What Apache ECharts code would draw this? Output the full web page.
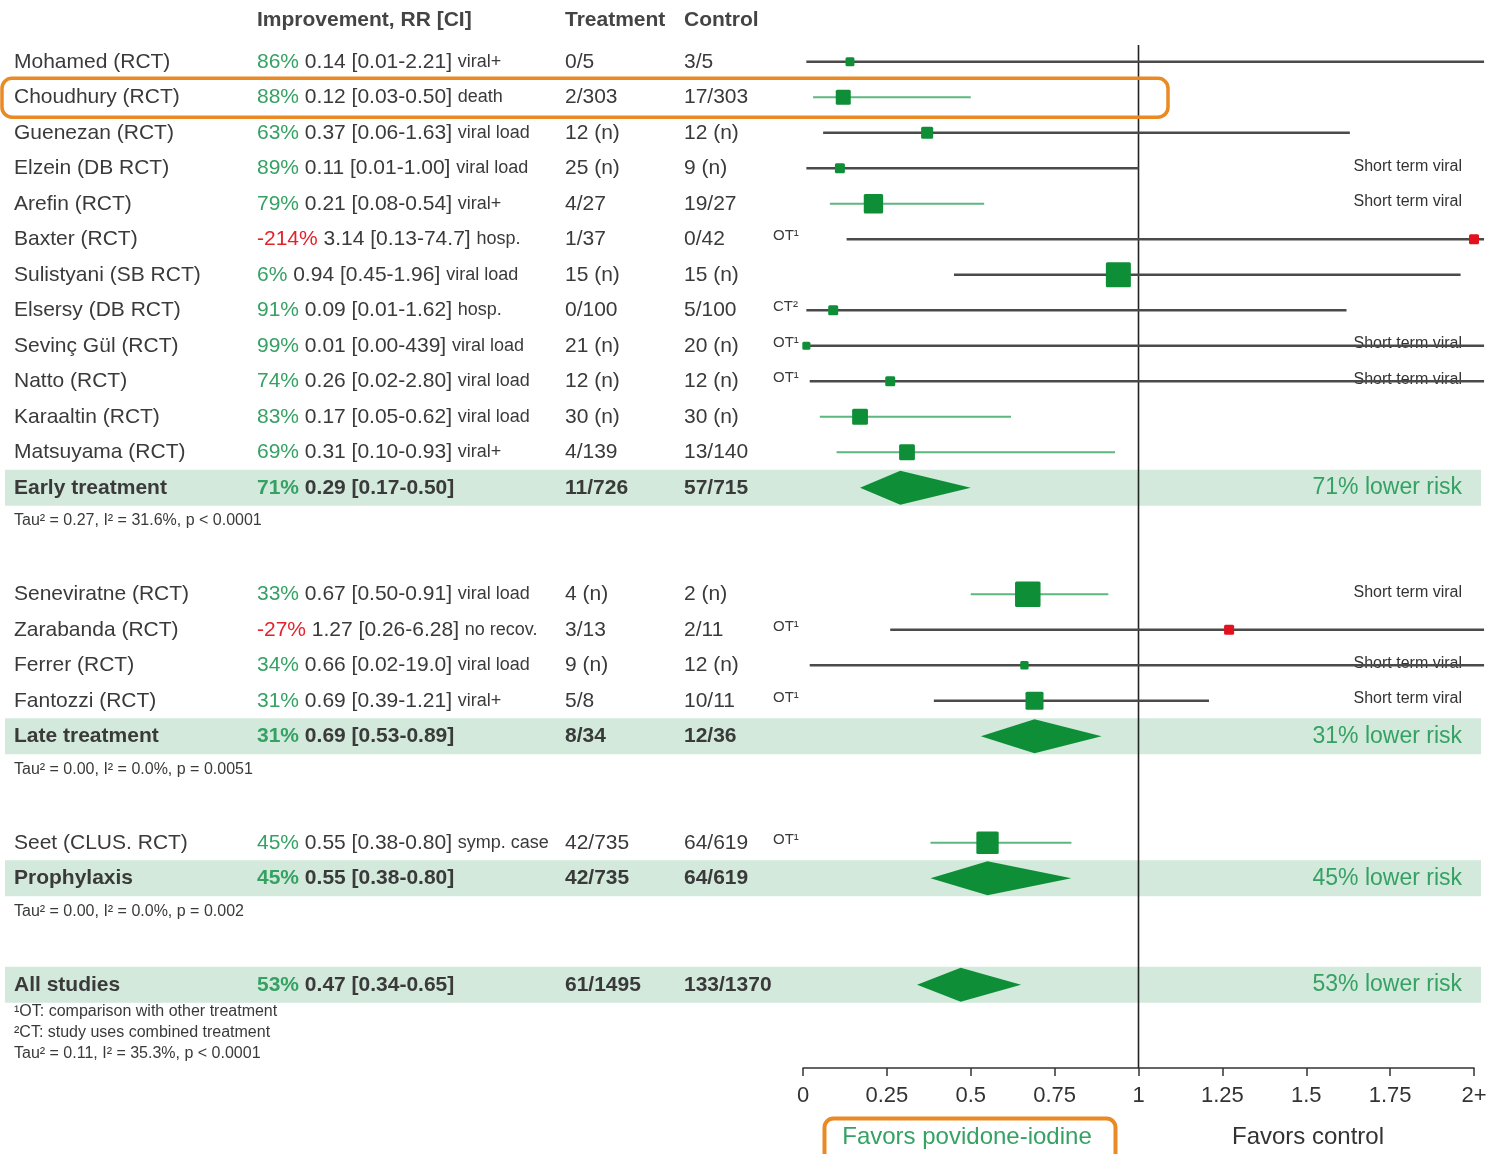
<!DOCTYPE html>
<html>
<head>
<meta charset="utf-8">
<title>Povidone-iodine for COVID-19: forest plot</title>
<script src="https://cdn.jsdelivr.net/npm/echarts@6/dist/echarts.min.js"></script>
<style>
  html, body { margin: 0; padding: 0; background: #ffffff; }
  #chart { width: 1488px; height: 1154px; }
</style>
</head>
<body>
<div id="chart"></div>
<script>
// ---- Individual studies ----
const studies = ['Mohamed (RCT)', 'Choudhury (RCT)', 'Guenezan (RCT)', 'Elzein (DB RCT)', 'Arefin (RCT)',
  'Baxter (RCT)', 'Sulistyani (SB RCT)', 'Elsersy (DB RCT)', 'Sevinç Gül (RCT)', 'Natto (RCT)',
  'Karaaltin (RCT)', 'Matsuyama (RCT)', 'Seneviratne (RCT)', 'Zarabanda (RCT)', 'Ferrer (RCT)',
  'Fantozzi (RCT)', 'Seet (CLUS. RCT)'];
const improvement = [86, 88, 63, 89, 79, -214, 6, 91, 99, 74, 83, 69, 33, -27, 34, 31, 45];
const riskRatio = [0.14, 0.12, 0.37, 0.11, 0.21, 3.14, 0.94, 0.09, 0.01, 0.26, 0.17, 0.31, 0.67, 1.27, 0.66, 0.69, 0.55];
const ciLow = [0.01, 0.03, 0.06, 0.01, 0.08, 0.13, 0.45, 0.01, 0.00, 0.02, 0.05, 0.10, 0.50, 0.26, 0.02, 0.39, 0.38];
const ciHigh = [2.21, 0.50, 1.63, 1.00, 0.54, 74.7, 1.96, 1.62, 439, 2.80, 0.62, 0.93, 0.91, 6.28, 19.0, 1.21, 0.80];
const outcomes = ['viral+', 'death', 'viral load', 'viral load', 'viral+', 'hosp.', 'viral load', 'hosp.',
  'viral load', 'viral load', 'viral load', 'viral+', 'viral load', 'no recov.', 'viral load', 'viral+', 'symp. case'];
const treatmentArm = ['0/5', '2/303', '12 (n)', '25 (n)', '4/27', '1/37', '15 (n)', '0/100', '21 (n)', '12 (n)',
  '30 (n)', '4/139', '4 (n)', '3/13', '9 (n)', '5/8', '42/735'];
const controlArm = ['3/5', '17/303', '12 (n)', '9 (n)', '19/27', '0/42', '15 (n)', '5/100', '20 (n)', '12 (n)',
  '30 (n)', '13/140', '2 (n)', '2/11', '12 (n)', '10/11', '64/619'];
const studyFlags = ['', '', '', '', '', 'OT¹', '', 'CT²', 'OT¹', 'OT¹', '', '', '', 'OT¹', '', 'OT¹', 'OT¹'];
const sideNotes = ['', '', '', 'Short term viral', 'Short term viral', '', '', '', 'Short term viral',
  'Short term viral', '', '', 'Short term viral', '', 'Short term viral', 'Short term viral', ''];
const studyWeights = [3.2, 9, 5.8, 4, 15, 4, 25, 4, 2.6, 4, 10, 10, 26, 4, 2.8, 13, 20];
const studyRows = [0, 1, 2, 3, 4, 5, 6, 7, 8, 9, 10, 11, 15, 16, 17, 18, 22];

// ---- Pooled estimates ----
const groupNames = ['Early treatment', 'Late treatment', 'Prophylaxis', 'All studies'];
const groupImprovement = [71, 31, 45, 53];
const groupRR = [0.29, 0.69, 0.55, 0.47];
const groupLow = [0.17, 0.53, 0.38, 0.34];
const groupHigh = [0.50, 0.89, 0.80, 0.65];
const groupTreatment = ['11/726', '8/34', '42/735', '61/1495'];
const groupControl = ['57/715', '12/36', '64/619', '133/1370'];
const groupStats = ['Tau² = 0.27, I² = 31.6%, p < 0.0001', 'Tau² = 0.00, I² = 0.0%, p = 0.0051',
  'Tau² = 0.00, I² = 0.0%, p = 0.002', ''];
const groupRows = [12, 19, 23, 26];

// ---- Headers, footnotes, axis ----
const columnHeaders = ['Improvement, RR [CI]', 'Treatment', 'Control'];
const footnotes = ['¹OT: comparison with other treatment', '²CT: study uses combined treatment',
  'Tau² = 0.11, I² = 35.3%, p < 0.0001'];
const axisTicks = [0, 0.25, 0.5, 0.75, 1, 1.25, 1.5, 1.75, 2];
const axisTickLabels = ['0', '0.25', '0.5', '0.75', '1', '1.25', '1.5', '1.75', '2+'];
const favorLabels = ['Favors povidone-iodine', 'Favors control'];
const highlightedStudy = 'Choudhury (RCT)';

// ---- Styling ----
const FONT = '"Liberation Sans", Arial, Helvetica, sans-serif';
const TEXT = '#3a3a3a';
const GREEN_TXT = '#35a263';
const RED_TXT = '#e3232b';
const MARK_GREEN = '#0e8f37';
const MARK_RED = '#e3101e';
const CI_GREEN = '#5db87f';
const CI_GRAY = '#4a4a4a';
const BAND = '#d2e9dc';
const ORANGE = '#e98a24';
const COL = { name: 14, imp: 257, trt: 565, ctl: 684, flag: 773, right: 1462 };
const X_CAP = 2.03;   // open-ended intervals run just past the "2+" tick

function fmt(v) {
  if (v >= 100) return String(Math.round(v));
  if (v >= 10) return v.toFixed(1);
  return v.toFixed(2);
}

function txt(x, y, text, size, opts) {
  opts = opts || {};
  return {
    type: 'text', x: x, y: y,
    style: Object.assign({
      text: text, fill: TEXT, fontSize: size, fontFamily: FONT,
      fontWeight: 'normal', align: 'left', verticalAlign: 'middle'
    }, opts)
  };
}

function improvementText(pct, rr, lo, hi, outcome, bold) {
  const w = bold ? 'bold' : 'normal';
  let s = '{p|' + pct + '%} {v|' + rr.toFixed(2) + ' [' + fmt(lo) + '-' + fmt(hi) + ']}';
  if (outcome) s += ' {o|' + outcome + '}';
  return {
    text: s,
    rich: {
      p: { fill: pct >= 0 ? GREEN_TXT : RED_TXT, fontSize: 21, fontFamily: FONT, fontWeight: w },
      v: { fill: TEXT, fontSize: 21, fontFamily: FONT, fontWeight: w },
      o: { fill: TEXT, fontSize: 18, fontFamily: FONT, fontWeight: 'normal' }
    }
  };
}

function renderBand(params, api) {
  const row = groupRows[params.dataIndex];
  const y = api.coord([0, row])[1];
  return { type: 'rect', shape: { x: 5, y: y - 18, width: 1476, height: 36 }, style: { fill: BAND } };
}

function renderRefLine(params, api) {
  const top = api.coord([1, -0.5]);
  const bottom = api.coord([1, 28.345]);
  return { type: 'line', shape: { x1: top[0], y1: top[1] + 1, x2: bottom[0], y2: bottom[1] },
    style: { stroke: '#222222', lineWidth: 1.6 } };
}

function renderStudy(params, api) {
  const i = params.dataIndex;
  const row = studyRows[i];
  const y = api.coord([0, row])[1];
  const x0 = api.coord([ciLow[i], row])[0];
  const x1 = api.coord([Math.min(ciHigh[i], X_CAP), row])[0];
  const xm = api.coord([Math.min(riskRatio[i], 2), row])[0];
  const significant = ciHigh[i] < 1;
  const s = 5 * Math.sqrt(studyWeights[i]);
  const children = [];
  children.push(txt(COL.name, y, studies[i], 21));
  const imp = improvementText(improvement[i], riskRatio[i], ciLow[i], ciHigh[i], outcomes[i], false);
  children.push(txt(COL.imp, y, imp.text, 21, { rich: imp.rich }));
  children.push(txt(COL.trt, y, treatmentArm[i], 21));
  children.push(txt(COL.ctl, y, controlArm[i], 21));
  if (studyFlags[i]) children.push(txt(COL.flag, y - 3, studyFlags[i], 15));
  if (sideNotes[i]) children.push(txt(COL.right, y - 2, sideNotes[i], 16, { align: 'right', fill: '#333333' }));
  children.push({ type: 'line', shape: { x1: x0, y1: y, x2: x1, y2: y },
    style: { stroke: significant ? CI_GREEN : CI_GRAY, lineWidth: significant ? 2 : 2.4 } });
  children.push({ type: 'rect', shape: { x: xm - s / 2, y: y - s / 2, width: s, height: s, r: 1.5 },
    style: { fill: riskRatio[i] > 1 ? MARK_RED : MARK_GREEN } });
  return { type: 'group', children: children };
}

function renderGroup(params, api) {
  const i = params.dataIndex;
  const row = groupRows[i];
  const y = api.coord([0, row])[1];
  const xl = api.coord([groupLow[i], row])[0];
  const xh = api.coord([groupHigh[i], row])[0];
  const xc = api.coord([groupRR[i], row])[0];
  const children = [];
  children.push(txt(COL.name, y, groupNames[i], 21, { fontWeight: 'bold' }));
  const imp = improvementText(groupImprovement[i], groupRR[i], groupLow[i], groupHigh[i], '', true);
  children.push(txt(COL.imp, y, imp.text, 21, { rich: imp.rich, fontWeight: 'bold' }));
  children.push(txt(COL.trt, y, groupTreatment[i], 21, { fontWeight: 'bold' }));
  children.push(txt(COL.ctl, y, groupControl[i], 21, { fontWeight: 'bold' }));
  children.push(txt(COL.right, y, groupImprovement[i] + '% lower risk', 23, { align: 'right', fill: GREEN_TXT }));
  if (groupStats[i]) {
    const ys = api.coord([0, row + 0.93])[1];
    children.push(txt(COL.name, ys, groupStats[i], 16));
  }
  children.push({ type: 'polygon',
    shape: { points: [[xl, y], [xc, y - 17], [xh, y], [xc, y + 17]] },
    style: { fill: MARK_GREEN } });
  return { type: 'group', children: children };
}

function renderHeaderAndNotes(params, api) {
  const children = [];
  const yh = api.coord([0, -1.18])[1];
  const hx = [COL.imp, COL.trt, COL.ctl];
  columnHeaders.forEach(function (h, k) {
    children.push(txt(hx[k], yh, h, 21, { fontWeight: 'bold', fill: '#444444' }));
  });
  footnotes.forEach(function (f, k) {
    const yf = api.coord([0, 26.75 + k * 0.6])[1];
    children.push(txt(COL.name, yf, f, 16));
  });
  // highlight frame around the selected study row
  const hi = studies.indexOf(highlightedStudy);
  const yr = api.coord([0, studyRows[hi]])[1];
  children.push({ type: 'rect', shape: { x: 2, y: yr - 19, width: 1166, height: 39, r: 10 },
    style: { fill: 'none', stroke: ORANGE, lineWidth: 3.5 } });
  return { type: 'group', children: children };
}

const chart = echarts.init(document.getElementById('chart'), null, { renderer: 'canvas' });

chart.setOption({
  animation: false,
  backgroundColor: '#ffffff',
  grid: { left: 803, right: 14, top: 44, bottom: 86, containLabel: false, outerBoundsMode: 'none' },
  xAxis: {
    type: 'value', min: 0, max: 2, interval: 0.25, position: 'bottom',
    axisLine: { show: true, onZero: false, lineStyle: { color: '#333333', width: 1.5 } },
    axisTick: { show: true, length: 8, lineStyle: { color: '#333333', width: 1.5 } },
    splitLine: { show: false },
    axisLabel: {
      margin: 17, fontSize: 22, fontFamily: FONT, color: '#333333',
      formatter: function (v) {
        const k = axisTicks.findIndex(function (t) { return Math.abs(t - v) < 1e-9; });
        return k >= 0 ? axisTickLabels[k] : '';
      }
    }
  },
  yAxis: { type: 'value', inverse: true, min: -0.5, max: 28.345, show: false },
  series: [
    { type: 'custom', name: 'bands', z: 1, silent: true, renderItem: renderBand,
      data: groupRows.map(function (r) { return [0, r]; }) },
    { type: 'custom', name: 'reference', z: 2, silent: true, renderItem: renderRefLine, data: [[1, 0]] },
    { type: 'custom', name: 'studies', z: 3, silent: true, renderItem: renderStudy,
      data: studyRows.map(function (r, i) { return [riskRatio[i], r]; }) },
    { type: 'custom', name: 'pooled', z: 3, silent: true, renderItem: renderGroup,
      data: groupRows.map(function (r, i) { return [groupRR[i], r]; }) },
    { type: 'custom', name: 'labels', z: 4, silent: true, renderItem: renderHeaderAndNotes, data: [[0, 0]] }
  ],
  graphic: [
    { type: 'rect', left: 822, top: 1116, shape: { width: 291, height: 46, r: 9 },
      style: { fill: 'none', stroke: ORANGE, lineWidth: 4 } },
    { type: 'text', x: 967, y: 1137,
      style: { text: favorLabels[0], fill: GREEN_TXT, fontSize: 24, fontFamily: FONT, align: 'center', verticalAlign: 'middle' } },
    { type: 'text', x: 1308, y: 1137,
      style: { text: favorLabels[1], fill: '#333333', fontSize: 24, fontFamily: FONT, align: 'center', verticalAlign: 'middle' } }
  ]
});
</script>
</body>
</html>
